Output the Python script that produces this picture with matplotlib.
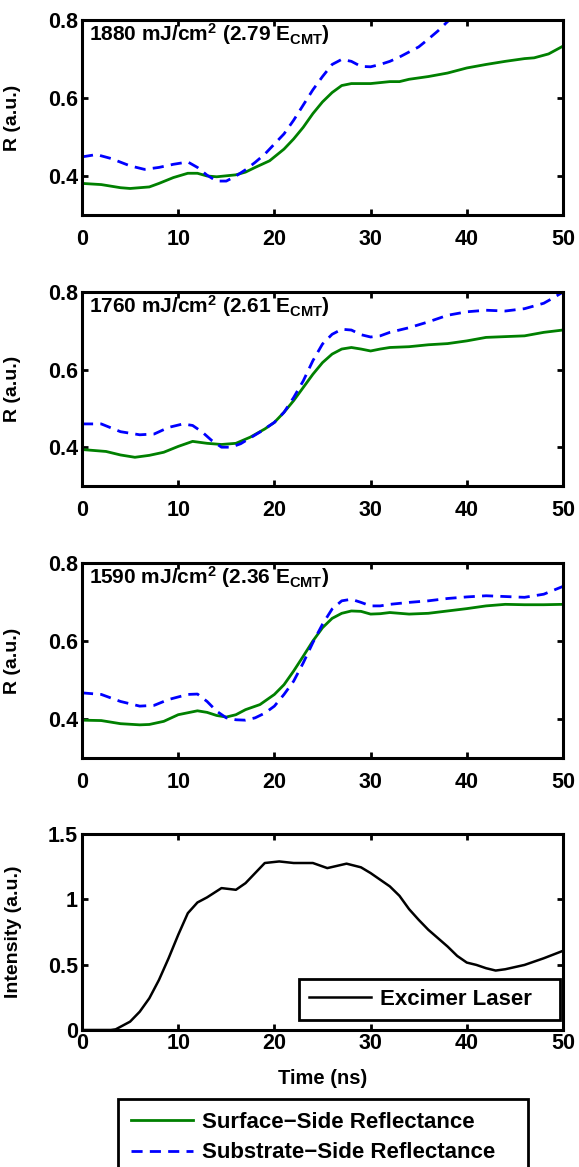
import matplotlib
matplotlib.use("Agg")
import matplotlib.pyplot as plt

plt.rcParams['font.family'] = ['Liberation Sans', 'DejaVu Sans']
plt.rcParams['font.weight'] = 'bold'
plt.rcParams['mathtext.fontset'] = 'custom'
plt.rcParams['mathtext.bf'] = 'Liberation Sans:bold'
plt.rcParams['mathtext.rm'] = 'Liberation Sans:bold'
plt.rcParams['mathtext.default'] = 'bf'

# ---------------- data ----------------
t1_g = [0, 2, 4, 5, 7, 8, 9.5, 11, 12, 13, 14, 16, 17, 18, 19.5, 21, 22, 23, 24, 25, 26, 27, 28, 30, 32, 33, 34, 36, 38, 40, 42, 44, 46, 47, 48.5, 50]
r1_g = [0.381, 0.378, 0.370, 0.368, 0.372, 0.381, 0.396, 0.407, 0.407, 0.400, 0.398, 0.403, 0.410, 0.422, 0.439, 0.469, 0.495, 0.525, 0.560, 0.590, 0.614, 0.632, 0.637, 0.637, 0.642, 0.642, 0.648, 0.655, 0.664, 0.677, 0.686, 0.694, 0.701, 0.703, 0.713, 0.733]
t1_b = [0, 1.5, 3, 5, 6.5, 8, 9.5, 11, 12, 13, 14, 15, 16, 17, 18, 19, 20, 21, 22, 23, 24, 25, 26, 27, 28, 29, 30, 31, 32, 33, 34, 35, 36, 37, 38, 39, 40, 45, 50]
r1_b = [0.449, 0.455, 0.445, 0.426, 0.417, 0.422, 0.430, 0.436, 0.422, 0.402, 0.387, 0.387, 0.400, 0.416, 0.435, 0.456, 0.482, 0.508, 0.543, 0.582, 0.621, 0.655, 0.686, 0.699, 0.694, 0.681, 0.680, 0.686, 0.694, 0.705, 0.718, 0.731, 0.751, 0.772, 0.796, 0.816, 0.840, 0.90, 0.95]

t2_g = [0, 2.5, 4, 5.5, 7, 8.5, 10, 11.5, 13, 14.5, 16, 17.5, 19, 20, 21, 22, 23, 24, 25, 26, 27, 28, 29, 30, 31, 32, 34, 36, 38, 40, 42, 44, 46, 48, 50]
r2_g = [0.394, 0.389, 0.380, 0.374, 0.379, 0.387, 0.402, 0.415, 0.410, 0.407, 0.410, 0.426, 0.447, 0.464, 0.490, 0.520, 0.554, 0.588, 0.618, 0.640, 0.653, 0.657, 0.653, 0.648, 0.653, 0.657, 0.659, 0.664, 0.667, 0.674, 0.683, 0.685, 0.687, 0.696, 0.702]
t2_b = [0, 2, 4, 6, 7.5, 9, 10.5, 11.5, 12.5, 13.5, 14.5, 15.5, 16.5, 17.5, 18.5, 20, 21, 22, 23, 24, 25, 26, 27, 28, 29, 30, 31, 32, 34, 36, 38, 40, 42, 44, 46, 48, 49, 50]
r2_b = [0.460, 0.460, 0.440, 0.432, 0.434, 0.451, 0.460, 0.456, 0.439, 0.417, 0.400, 0.400, 0.409, 0.424, 0.439, 0.464, 0.490, 0.528, 0.571, 0.623, 0.666, 0.691, 0.704, 0.702, 0.690, 0.684, 0.687, 0.696, 0.708, 0.723, 0.740, 0.749, 0.753, 0.751, 0.757, 0.771, 0.785, 0.800]

t3_g = [0, 2, 4, 6, 7, 8.5, 10, 12, 13, 14, 15, 16, 17, 18.5, 20, 21, 22, 23, 24, 25, 26, 27, 28, 29, 30, 31, 32, 34, 36, 38, 40, 42, 44, 46, 48, 50]
r3_g = [0.397, 0.396, 0.388, 0.385, 0.386, 0.394, 0.411, 0.421, 0.417, 0.409, 0.405, 0.411, 0.424, 0.437, 0.463, 0.488, 0.523, 0.561, 0.600, 0.634, 0.658, 0.671, 0.677, 0.676, 0.669, 0.670, 0.673, 0.669, 0.671, 0.677, 0.683, 0.690, 0.694, 0.693, 0.693, 0.694]
t3_b = [0, 2, 4, 6, 7.5, 9, 11, 12, 13, 14, 15, 16, 17, 18, 19, 20, 21, 22, 23, 24, 25, 26, 27, 28, 29, 30, 31, 32, 34, 36, 38, 40, 42, 44, 46, 48, 50]
r3_b = [0.467, 0.463, 0.445, 0.433, 0.435, 0.450, 0.463, 0.464, 0.445, 0.420, 0.403, 0.398, 0.397, 0.403, 0.415, 0.433, 0.463, 0.497, 0.544, 0.596, 0.643, 0.682, 0.703, 0.707, 0.699, 0.690, 0.690, 0.694, 0.699, 0.703, 0.709, 0.713, 0.716, 0.714, 0.712, 0.720, 0.740]

t_laser = [0, 3, 3.5, 5, 6, 7, 8, 9, 10, 11, 12, 13, 14.5, 16, 17, 18, 19, 20.5, 22, 24, 25.5, 27.5, 29, 30, 31, 32, 33, 34, 35, 36, 37, 38, 39, 40, 41, 42, 43, 44, 46, 48, 50]
i_laser = [0, 0, 0.005, 0.064, 0.14, 0.243, 0.383, 0.549, 0.728, 0.894, 0.976, 1.015, 1.086, 1.073, 1.124, 1.201, 1.278, 1.29, 1.278, 1.278, 1.239, 1.273, 1.245, 1.201, 1.150, 1.099, 1.027, 0.925, 0.843, 0.767, 0.703, 0.639, 0.567, 0.516, 0.498, 0.473, 0.455, 0.465, 0.498, 0.549, 0.606]

labels = ["1880 mJ/cm$^{2}$ (2.79 E$_{CMT}$)",
          "1760 mJ/cm$^{2}$ (2.61 E$_{CMT}$)",
          "1590 mJ/cm$^{2}$ (2.36 E$_{CMT}$)"]
x_ticks = [0, 10, 20, 30, 40, 50]
r_ticks = [0.4, 0.6, 0.8]
r_ticklabels = ["0.4", "0.6", "0.8"]
i_ticks = [0, 0.5, 1, 1.5]
i_ticklabels = ["0", "0.5", "1", "1.5"]

GREEN = (0, 0.5, 0)
BLUE = (0, 0, 1)

TICK_FS = 15.5
LABEL_FS = 14
ANNOT_FS = 15
LEG_FS = 16

# ---------------- figure ----------------
W, H = 579, 1167
fig = plt.figure(figsize=(W / 100, H / 100), dpi=100)

left_px, right_px = 82, 563
panels_px = [(20, 215), (292, 486), (563, 758), (834, 1030)]

def add_ax(top, bottom):
    return fig.add_axes([left_px / W, 1 - bottom / H, (right_px - left_px) / W, (bottom - top) / H])

axes = [add_ax(*p) for p in panels_px]

def style(ax, xpad):
    for s in ax.spines.values():
        s.set_linewidth(2.2)
    ax.tick_params(direction='in', length=4, width=2, top=True, right=True,
                   labelsize=TICK_FS)
    ax.tick_params(axis='x', pad=xpad)
    ax.tick_params(axis='y', pad=3)
    ax.set_xlim(0, 50)
    ax.set_xticks(x_ticks)
    ax.set_xticklabels([str(v) for v in x_ticks], fontweight='bold')

data = [(t1_g, r1_g, t1_b, r1_b), (t2_g, r2_g, t2_b, r2_b), (t3_g, r3_g, t3_b, r3_b)]
handles = None
for ax, (tg, rg, tb, rb), lab in zip(axes[:3], data, labels):
    hg, = ax.plot(tg, rg, color=GREEN, lw=2, label='Surface\u2212Side Reflectance')
    hb, = ax.plot(tb, rb, color=BLUE, lw=2, dashes=(4, 2.6), label='Substrate\u2212Side Reflectance')
    handles = [hg, hb]
    ax.set_ylim(0.3, 0.8)
    ax.set_yticks(r_ticks)
    ax.set_yticklabels(r_ticklabels, fontweight='bold')
    style(ax, 10)
    ax.set_ylabel('R (a.u.)', fontsize=LABEL_FS, fontweight='bold')
    ax.yaxis.set_label_coords(-0.127, 0.5)
    ax.text(0.7, 0.797, lab, fontsize=ANNOT_FS, fontweight='bold', va='top', ha='left')

ax4 = axes[3]
hl, = ax4.plot(t_laser, i_laser, color='black', lw=1.8, label='Excimer Laser')
ax4.set_ylim(0, 1.5)
ax4.set_yticks(i_ticks)
ax4.set_yticklabels(i_ticklabels, fontweight='bold')
style(ax4, 2.5)
ax4.set_ylabel('Intensity (a.u.)', fontsize=LABEL_FS, fontweight='bold')
ax4.yaxis.set_label_coords(-0.125, 0.5)
ax4.set_xlabel('Time (ns)', fontsize=14.5, fontweight='bold')
ax4.xaxis.set_label_coords(0.5, -0.245)
ax4.xaxis.label.set_va('center')

leg1 = ax4.legend(handles=[hl], loc='upper left', bbox_to_anchor=(0.451, 0.056, 0.543, 0.204),
                  mode='expand', borderaxespad=0, fancybox=False, framealpha=1, edgecolor='black',
                  prop={'weight': 'bold', 'size': LEG_FS}, handlelength=2.8,
                  borderpad=0.45, handletextpad=0.4)
leg1.get_frame().set_linewidth(2)

leg2 = fig.legend(handles=handles, loc='upper left',
                  bbox_to_anchor=(118 / W, 1 - 1099 / H, 410 / W, 0.0),
                  mode='expand', borderaxespad=0, fancybox=False, framealpha=1, edgecolor='black',
                  prop={'weight': 'bold', 'size': LEG_FS}, handlelength=2.8,
                  borderpad=0.58, handletextpad=0.4, labelspacing=0.43)
leg2.get_frame().set_linewidth(2)

fig.savefig('out.png', dpi=100)
